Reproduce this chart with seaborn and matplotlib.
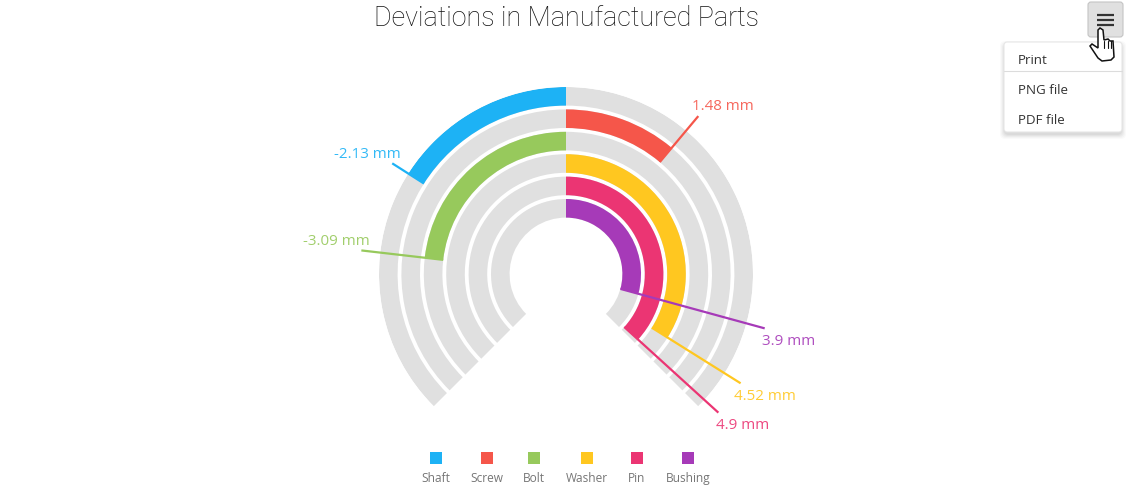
import numpy as np
import pandas as pd
import matplotlib.pyplot as plt
import seaborn as sns
from matplotlib.patches import FancyBboxPatch, Polygon, Rectangle

parts = ['Shaft', 'Screw', 'Bolt', 'Washer', 'Pin', 'Bushing']
deviations = [-2.13, 1.48, -3.09, 4.52, 4.9, 3.9]
colors = ['#1db2f5', '#f5564a', '#97c95c', '#ffc720', '#eb3573', '#a63ab8']
axis_min = -5
axis_max = 5
menu_items = ['Print', 'PNG file', 'PDF file']
title = 'Deviations in Manufactured Parts'

# -5..5 runs over 270 degrees
def to_theta(v):
    return np.radians(np.array(v) * 27.0)

W, H = 1131, 486
cx, cy, R = 566, 274, 187
step = 22.4
bar_w = 18.6 / step
r_top = -bar_w / 2
r_zero = r_top + R / step

def r_cat(px):
    return r_zero - px / step

sns.set_theme(style='white')
plt.rcParams['font.family'] = ['Open Sans', 'DejaVu Sans']

fig = plt.figure(figsize=(W / 100, H / 100), dpi=100)
ax = fig.add_axes([(cx - R) / W, (H - cy - R) / H, 2 * R / W, 2 * R / H], projection='polar')
ax.set_theta_zero_location('N')
ax.set_theta_direction(-1)

df = pd.DataFrame({'part': parts, 'theta': to_theta(deviations)})
track = pd.DataFrame({'part': parts})
for lim in [axis_min, axis_max]:
    track['theta'] = float(to_theta(lim))
    sns.barplot(data=track, x='theta', y='part', color='#e0e0e0', saturation=1,
                width=bar_w, linewidth=0, orient='h', ax=ax)
sns.barplot(data=df, x='theta', y='part', hue='part', palette=dict(zip(parts, colors)),
            saturation=1, width=bar_w, linewidth=0, orient='h', legend=False, ax=ax)

ax.set_thetamin(-180)
ax.set_thetamax(180)
ax.set_ylim(r_zero, r_top)
ax.set_xlabel('')
ax.set_ylabel('')
ax.set_xticks([])
ax.set_yticks([])
ax.grid(False)
ax.spines['polar'].set_visible(False)
ax.patch.set_alpha(0)

# leader lines, radial from inside of the ring to r=206px
for i, (d, c) in enumerate(zip(deviations, colors)):
    t = float(to_theta(d))
    ax.plot([t, t], [i + bar_w / 2, r_cat(206)], color=c, lw=1.6, clip_on=False,
            solid_capstyle='butt', zorder=5)

# overlay in pixel coords for title, labels, legend, menu
ov = fig.add_axes([0, 0, 1, 1], zorder=10)
ov.set_xlim(0, W)
ov.set_ylim(H, 0)
ov.axis('off')
ov.patch.set_alpha(0)

ov.text(566, 19, title, ha='center', va='center', fontsize=19.4, color='#111111',
        family=['Roboto', 'DejaVu Sans'], fontweight='light')

label_x = [367, 723, 336, 765, 743, 789]
label_y = [154, 106, 241, 396, 425, 341]
for d, c, x, y in zip(deviations, colors, label_x, label_y):
    ov.text(x, y, f'{d} mm', ha='center', va='center', fontsize=10.9, color=c, alpha=0.9)

legend_x = [436, 487, 534, 587, 637, 688]
for p, c, x in zip(parts, colors, legend_x):
    ov.add_patch(Rectangle((x - 6, 452), 12, 12, fc=c, ec='none'))
    ov.text(x, 478, p, ha='center', va='center', fontsize=8.6, color='#767676')

# drop shadow of menu, falls below the box
for grow, a in zip([5, 4, 3, 2, 1], [0.02, 0.025, 0.03, 0.035, 0.04]):
    ov.add_patch(FancyBboxPatch((1004 - grow + 1, 46 - grow), 116 + 2 * grow, 88 + 2 * grow,
                                boxstyle='round,pad=0,rounding_size=5', fc='black', ec='none', alpha=a))
ov.add_patch(FancyBboxPatch((1004, 42), 118, 90, boxstyle='round,pad=0,rounding_size=3',
                            fc='white', ec='#e6e6e6', lw=0.8))
ov.plot([1004, 1122], [71, 71], color='#dcdcdc', lw=0.8)
for item, y in zip(menu_items, [60, 90, 120]):
    ov.text(1018, y, item, ha='left', va='center', fontsize=9.6, color='#333333')

ov.add_patch(FancyBboxPatch((1088, 2), 35, 35, boxstyle='round,pad=0,rounding_size=3',
                            fc='#e0e0e0', ec='#c4c4c4', lw=0.8))
for y in [15, 20, 25]:
    ov.plot([1097, 1114], [y, y], color='#333333', lw=1.6, solid_capstyle='butt')

hand = [(1098, 30), (1100, 28), (1103, 30), (1104, 40), (1108, 39), (1110, 41), (1113, 41),
        (1114, 57), (1111, 60), (1102, 61), (1098, 58), (1090, 46), (1092, 44), (1098, 48)]
ov.add_patch(Polygon(hand, closed=True, fc='white', ec='#111111', lw=1.1, zorder=6))
for x in [1104, 1108, 1111]:
    ov.plot([x, x], [41, 48], color='#111111', lw=0.8, zorder=7)

fig.savefig('out.png', dpi=100)
